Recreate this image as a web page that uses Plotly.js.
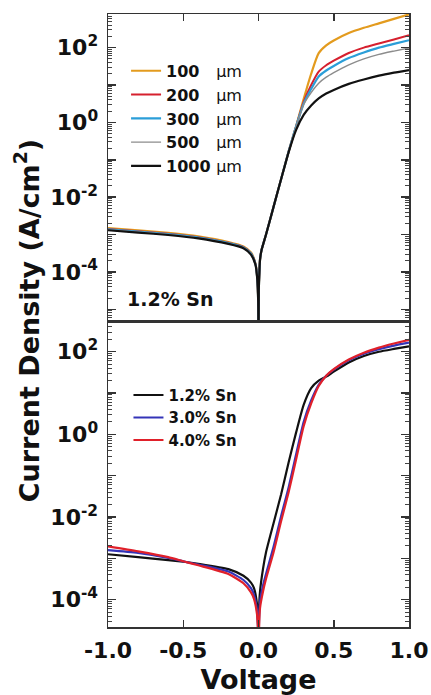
<!DOCTYPE html>
<html>
<head>
<meta charset="utf-8">
<script src="https://cdn.plot.ly/plotly-3.0.1.min.js"></script>
<style>
html,body{margin:0;padding:0;background:#fff;}
#chart{width:431px;height:695px;}
</style>
</head>
<body>
<div id="chart"></div>
<script>
// ---------- Top panel: thickness series (1.2% Sn) ----------
const vTop = [-1, -0.8, -0.6, -0.4, -0.2, -0.1, -0.05, -0.02, -0.008, -0.002, 0,
              0.002, 0.006, 0.01, 0.02, 0.05, 0.1, 0.15, 0.2, 0.25, 0.3, 0.35, 0.4, 0.45, 0.5, 0.6, 0.7, 0.8, 0.9, 1.0];
const topLabels = ['100', '200', '300', '500', '1000'];
const j100  = [1.48e-3, 1.29e-3, 1.10e-3, 8.9e-4, 6.3e-4, 4.8e-4, 3.3e-4, 1.66e-4, 6.6e-5, 1.6e-5, 1e-7,
               3.2e-5, 1.0e-4, 2.1e-4, 3.8e-4, 1.0e-3, 5.5e-3, 3.0e-2, 0.165, 0.79, 4.2, 20, 71, 115, 155, 245, 339, 447, 589, 776];
const j200  = [1.41e-3, 1.23e-3, 1.05e-3, 8.5e-4, 6.0e-4, 4.6e-4, 3.15e-4, 1.62e-4, 6.5e-5, 1.6e-5, 1e-7,
               3.2e-5, 1.0e-4, 2.1e-4, 3.8e-4, 1.0e-3, 5.5e-3, 3.0e-2, 0.165, 0.79, 3.55, 10, 22.9, 33.9, 44.7, 72, 100, 129, 166, 214];
const j300  = [1.38e-3, 1.20e-3, 1.02e-3, 8.3e-4, 5.9e-4, 4.5e-4, 3.1e-4, 1.6e-4, 6.4e-5, 1.6e-5, 1e-7,
               3.2e-5, 1.0e-4, 2.1e-4, 3.8e-4, 1.0e-3, 5.5e-3, 3.0e-2, 0.165, 0.79, 3.16, 7.9, 17, 24.5, 32.4, 52.5, 74, 100, 126, 158];
const j500  = [1.35e-3, 1.17e-3, 1.00e-3, 8.1e-4, 5.75e-4, 4.4e-4, 3.0e-4, 1.58e-4, 6.3e-5, 1.6e-5, 1e-7,
               3.2e-5, 1.0e-4, 2.1e-4, 3.8e-4, 1.0e-3, 5.5e-3, 3.0e-2, 0.162, 0.76, 3.0, 6.3, 11.2, 16.2, 21.4, 34.7, 50, 66, 81, 98];
const j1000 = [1.30e-3, 1.13e-3, 9.7e-4, 7.9e-4, 5.6e-4, 4.3e-4, 2.9e-4, 1.55e-4, 6.2e-5, 1.6e-5, 1e-7,
               3.2e-5, 1.0e-4, 2.1e-4, 3.8e-4, 1.0e-3, 5.5e-3, 3.0e-2, 0.158, 0.63, 1.58, 2.82, 4.37, 5.9, 7.4, 10.7, 14.1, 17.8, 21.4, 25.1];

// ---------- Bottom panel: Sn content series ----------
const vBot = [-1, -0.8, -0.6, -0.5, -0.4, -0.2, -0.1, -0.05, -0.03, -0.01, -0.003, 0,
              0.003, 0.01, 0.03, 0.05, 0.1, 0.15, 0.2, 0.25, 0.3, 0.35, 0.4, 0.45, 0.5, 0.6, 0.7, 0.8, 0.9, 1.0];
const botLabels = ['1.2% Sn', '3.0% Sn', '4.0% Sn'];
const jSn12 = [1.26e-3, 1.07e-3, 9.1e-4, 8.3e-4, 7.4e-4, 5.5e-4, 3.8e-4, 2.6e-4, 1.9e-4, 7.9e-5, 2.5e-5, 1e-7,
               5.0e-5, 1.58e-4, 5.6e-4, 1.41e-3, 7.1e-3, 3.5e-2, 0.21, 1.12, 5.2, 13.2, 20, 25, 33, 55, 79, 100, 117, 135];
const jSn30 = [1.58e-3, 1.35e-3, 1.02e-3, 8.5e-4, 7.1e-4, 4.8e-4, 3.0e-4, 1.9e-4, 1.32e-4, 5.6e-5, 2.0e-5, 1e-7,
               2.5e-5, 8.9e-5, 2.2e-4, 4.2e-4, 1.9e-3, 1.05e-2, 5.2e-2, 0.33, 2.0, 6.6, 15.8, 26.3, 37, 62, 89, 115, 141, 166];
const jSn40 = [1.95e-3, 1.48e-3, 1.07e-3, 8.5e-4, 6.8e-4, 4.2e-4, 2.5e-4, 1.5e-4, 1.05e-4, 4.5e-5, 1.6e-5, 1e-7,
               1.6e-5, 6.3e-5, 1.58e-4, 3.2e-4, 1.41e-3, 7.9e-3, 4.0e-2, 0.25, 1.58, 5.6, 14.8, 26.3, 38, 65, 95, 126, 158, 195];

// ---------- Tick labels ----------
const xTickVals = [-1, -0.5, 0, 0.5, 1];
const xTickText = ['-1.0', '-0.5', '0.0', '0.5', '1.0'];
const yTickVals = [1e-5, 1e-4, 1e-3, 1e-2, 1e-1, 1, 10, 100];
const yTickText = ['', '10<sup>-4</sup>', '', '10<sup>-2</sup>', '', '10<sup>0</sup>', '', '10<sup>2</sup>'];

// minor tick positions (2..9 within each decade)
const minorVals = [];
for (let e = -6; e <= 2; e++) for (let m = 2; m <= 9; m++) minorVals.push(m * Math.pow(10, e));

const topColors = ['#E39B1E', '#D6202E', '#2B9ED8', '#8C8C8C', '#111111'];
const topWidths = [2.2, 2, 2.2, 1.4, 2.2];
const botColors = ['#111111', '#3434B8', '#E0202A'];

const unit = '<span style="font-weight:normal">\u00b5m</span>';
const pad = {'100': '\u00a0\u00a0\u00a0', '200': '\u00a0\u00a0\u00a0', '300': '\u00a0\u00a0\u00a0', '500': '\u00a0\u00a0\u00a0', '1000': '\u00a0'};

const topSeries = [j100, j200, j300, j500, j1000];
const botSeries = [jSn12, jSn30, jSn40];

const traces = [];
topSeries.forEach((ys, i) => {
  traces.push({
    x: vTop, y: ys, type: 'scatter', mode: 'lines', xaxis: 'x', yaxis: 'y',
    name: topLabels[i] + pad[topLabels[i]] + unit, legend: 'legend',
    line: {color: topColors[i], width: topWidths[i], shape: 'spline', smoothing: 0.6}
  });
});
botSeries.forEach((ys, i) => {
  traces.push({
    x: vBot, y: ys, type: 'scatter', mode: 'lines', xaxis: 'x2', yaxis: 'y2',
    name: botLabels[i], legend: 'legend2',
    line: {color: botColors[i], width: 2.2, shape: 'spline', smoothing: 0.6}
  });
});

const F = 'DejaVu Sans, Arial, sans-serif';
const tickFont = {family: F, size: 22, weight: 'bold', color: '#111'};
const topRange = [-5.34, 2.9];
const botRange = [-4.66, 2.72];
const topDomain = [0.4976, 1];
const botDomain = [0, 0.4976];

function yAxis(range, domain, anchor) {
  return {
    type: 'log', range: range, domain: domain, anchor: anchor,
    tickmode: 'array', tickvals: yTickVals, ticktext: yTickText,
    ticks: 'inside', ticklen: 8, tickwidth: 1.5, tickcolor: '#333',
    showline: true, linecolor: '#333', linewidth: 1.5, mirror: 'allticks',
    showgrid: false, zeroline: false, tickfont: tickFont, ticklabelstandoff: 4,
    minor: {tickmode: 'array', tickvals: minorVals, ticks: 'inside', ticklen: 4, tickwidth: 1, tickcolor: '#444', showgrid: false}
  };
}

const layout = {
  width: 431, height: 695,
  margin: {l: 108, r: 22, t: 14, b: 68},
  paper_bgcolor: '#fff', plot_bgcolor: '#fff',
  showlegend: true,
  xaxis: {
    range: [-1, 1], anchor: 'y', side: 'top',
    tickmode: 'array', tickvals: xTickVals, ticktext: xTickText, showticklabels: false,
    ticks: 'inside', ticklen: 7, tickwidth: 1.5, tickcolor: '#333',
    showline: true, linecolor: '#333', linewidth: 1.5, mirror: true,
    showgrid: false, zeroline: false
  },
  xaxis2: {
    range: [-1, 1], anchor: 'y2', side: 'bottom',
    tickmode: 'array', tickvals: xTickVals, ticktext: xTickText,
    ticks: 'inside', ticklen: 7, tickwidth: 1.5, tickcolor: '#333',
    showline: true, linecolor: '#333', linewidth: 1.5, mirror: true,
    showgrid: false, zeroline: false, tickfont: tickFont, ticklabelstandoff: 3,
    title: {text: 'Voltage', font: {family: F, size: 27, weight: 'bold', color: '#111'}, standoff: 9}
  },
  yaxis: yAxis(topRange, topDomain, 'x'),
  yaxis2: yAxis(botRange, botDomain, 'x2'),
  legend: {
    x: 0.06, y: 0.935, xanchor: 'left', yanchor: 'top',
    bgcolor: 'rgba(0,0,0,0)', borderwidth: 0, itemwidth: 30, traceorder: 'normal',
    font: {family: F, size: 16, weight: 'bold', color: '#111'}
  },
  legend2: {
    x: 0.068, y: 0.405, xanchor: 'left', yanchor: 'top',
    bgcolor: 'rgba(0,0,0,0)', borderwidth: 0, itemwidth: 30, traceorder: 'normal',
    font: {family: F, size: 15, weight: 'bold', color: '#111'}
  },
  annotations: [
    {text: 'Current Density (A/cm<sup>2</sup>)', xref: 'paper', yref: 'paper', x: -0.27, y: 0.5,
     xanchor: 'center', yanchor: 'middle', textangle: -90, showarrow: false,
     font: {family: F, size: 27, weight: 'bold', color: '#111'}},
    {text: '1.2% Sn', xref: 'x domain', yref: 'y domain', x: 0.056, y: 0.076,
     xanchor: 'left', yanchor: 'middle', showarrow: false,
     font: {family: F, size: 19, weight: 'bold', color: '#111'}}
  ]
};

Plotly.newPlot('chart', traces, layout, {displayModeBar: false, staticPlot: true});
</script>
</body>
</html>
